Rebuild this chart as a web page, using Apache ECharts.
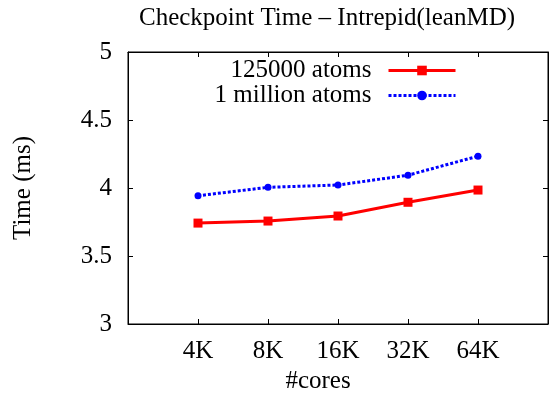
<!DOCTYPE html>
<html><head><meta charset="utf-8">
<script src="https://cdn.jsdelivr.net/npm/echarts@6/dist/echarts.min.js"></script>
<style>html,body{margin:0;padding:0;background:#fff}#c{width:554px;height:402px}</style>
</head><body><div id="c"></div>
<script>
var categories = ['', '4K', '8K', '16K', '32K', '64K', ''];
var seriesNames = ['125000 atoms', '1 million atoms'];
var atoms125k = [null, 3.742, 3.757, 3.794, 3.895, 3.985, null];
var atoms1m = [null, 3.943, 4.005, 4.022, 4.094, 4.234, null];
var yTicks = [3, 3.5, 4, 4.5, 5];

var F = 'Liberation Serif, Times New Roman, serif';
var FS = 25;
var chart = echarts.init(document.getElementById('c'));
chart.setOption({
  animation: false,
  backgroundColor: '#fff',
  title: {
    text: 'Checkpoint Time \u2013 Intrepid(leanMD)',
    left: 322, top: 1, textAlign: 'center',
    textStyle: { fontFamily: F, fontWeight: 'normal', fontSize: FS, color: '#000' }
  },
  legend: {
    data: seriesNames,
    orient: 'vertical', align: 'right',
    right: 97, top: 58, padding: 0,
    itemWidth: 67, itemHeight: 12, itemGap: 0,
    lineStyle: { width: 3 },
    textStyle: { fontFamily: F, fontSize: FS, color: '#000', padding: [0, 12, 0, 0] }
  },
  grid: { left: 128, right: 6, top: 52, bottom: 78, show: true, borderColor: '#000', borderWidth: 1 },
  xAxis: [{
    type: 'category', data: categories, boundaryGap: false,
    name: '#cores', nameLocation: 'middle', nameGap: 44,
    nameTextStyle: { fontFamily: F, fontSize: FS, color: '#000', padding: [0, 40, 0, 0] },
    axisLine: { lineStyle: { color: '#000' } },
    axisTick: { inside: true, length: 5, lineStyle: { color: '#000' },
      interval: function (i) { return i > 0 && i < 6; } },
    axisLabel: { fontFamily: F, fontSize: FS, color: '#000', margin: 15,
      interval: function (i) { return i > 0 && i < 6; } },
    splitLine: { show: false }
  }, {
    type: 'category', data: categories, boundaryGap: false, position: 'top',
    axisLine: { lineStyle: { color: '#000' } },
    axisTick: { inside: true, length: 5, lineStyle: { color: '#000' },
      interval: function (i) { return i > 0 && i < 6; } },
    axisLabel: { show: false }, splitLine: { show: false }
  }],
  yAxis: [{
    type: 'value', min: 3, max: 5, interval: 0.5,
    name: 'Time (ms)', nameLocation: 'middle', nameGap: 92, nameRotate: 90,
    nameTextStyle: { fontFamily: F, fontSize: FS, color: '#000' },
    axisLine: { show: true, lineStyle: { color: '#000' } },
    axisTick: { show: true, inside: true, length: 5, lineStyle: { color: '#000' } },
    axisLabel: { fontFamily: F, fontSize: FS, color: '#000', margin: 16,
      formatter: function (v) { return yTicks.indexOf(v) >= 0 ? String(v) : ''; } },
    splitLine: { show: false }
  }, {
    type: 'value', min: 3, max: 5, interval: 0.5, position: 'right',
    axisLine: { show: true, lineStyle: { color: '#000' } },
    axisTick: { show: true, inside: true, length: 5, lineStyle: { color: '#000' } },
    axisLabel: { show: false }, splitLine: { show: false }
  }],
  series: [{
    name: seriesNames[0], type: 'line', data: atoms125k,
    symbol: 'rect', symbolSize: 9, showAllSymbol: true,
    itemStyle: { color: '#ff0000' },
    lineStyle: { color: '#ff0000', width: 3 }
  }, {
    name: seriesNames[1], type: 'line', data: atoms1m,
    symbol: 'circle', symbolSize: 7, showAllSymbol: true,
    itemStyle: { color: '#0000ff' },
    lineStyle: { color: '#0000ff', width: 3, type: [3, 2] }
  }]
});
</script></body></html>
